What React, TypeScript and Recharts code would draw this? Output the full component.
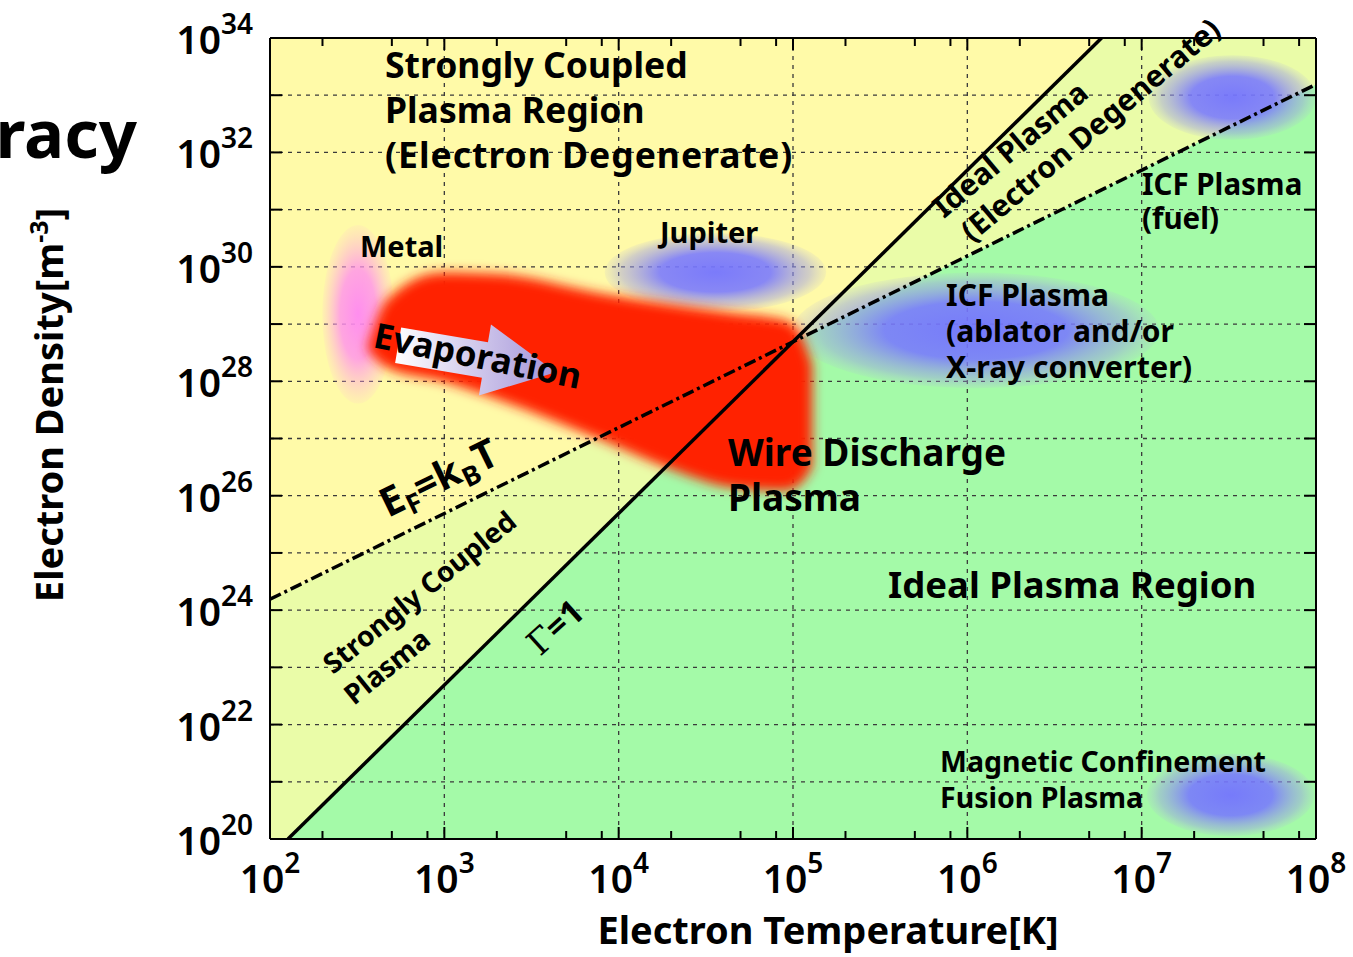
import React from "react";
import {
  ComposedChart,
  Area,
  Line,
  XAxis,
  YAxis,
  CartesianGrid,
  ReferenceArea,
  ReferenceLine,
} from "recharts";

// everything is in log10 units: x = log10(T [K]), y = log10(n_e [m^-3])
const X_DECADES = [2, 3, 4, 5, 6, 7, 8];
const MINOR_STEPS = [2, 5, 8];
const Y_DECADES = [20, 21, 22, 23, 24, 25, 26, 27, 28, 29, 30, 31, 32, 33, 34];
const X_GRID = [3, 4, 5, 6, 7];
const Y_GRID = [21, 22, 23, 24, 25, 26, 27, 28, 29, 30, 31, 32, 33];

// boundaries of the three coloured regions
const regionX = [2, 2.103, 5.0, 6.77, 8];
const fermiAt = [24.19, 24.34, 28.69, 31.35, 33.19];
const gammaAt = [20, 20, 28.69, 34, 34];

// Gamma = 1 and E_F = k_B T lines
const gammaLine = [
  { x: 2.103, y: 20 },
  { x: 6.77, y: 34 },
];
const fermiLine = [
  { x: 2, y: 24.19 },
  { x: 8, y: 33.19 },
];

// wire discharge plasma blob outline
const wireX = [2.56, 2.67, 2.99, 3.32, 3.89, 4.28, 4.66, 4.95, 5.04, 5.11];
const wireLow = [28.55, 28.24, 28.0, 27.67, 26.99, 26.49, 26.14, 26.09, 26.2, 26.5];
const wireHigh = [28.6, 29.42, 29.9, 29.87, 29.54, 29.35, 29.19, 29.07, 28.84, 28.3];

// soft elliptical blobs: [x1, x2, y1, y2]
const blobNames = ["metal", "jupiter", "icfFuel", "icfAblator", "mcf"];
const blobBoxes = [
  [2.3, 2.71, 27.61, 30.73],
  [3.92, 5.19, 29.22, 30.59],
  [7.04, 8.0, 32.22, 33.7],
  [5.0, 7.1, 27.88, 29.9],
  [7.03, 7.99, 20.05, 21.49],
];
const blobFills = ["pinkBlob", "blueBlob", "blueBlob", "blueBlob", "blueBlob"];

// evaporation arrow
const evapFrom = { x: 2.735, y: 28.63 };
const evapTo = { x: 3.64, y: 28.16 };

const FONT = "'Noto Sans', 'DejaVu Sans', sans-serif";

const xTicks = X_DECADES.flatMap((d) =>
  d === 8 ? [d] : [d, ...MINOR_STEPS.map((k) => d + Math.log10(k))]
);

const regionRows = regionX.map((x, i) => {
  const lo = Math.min(fermiAt[i], gammaAt[i]);
  const hi = Math.max(fermiAt[i], gammaAt[i]);
  return { x, green: [20, lo], pale: [lo, hi], yellow: [hi, 34] };
});

const wireRows = wireX.map((x, i) => ({ x, wire: [wireLow[i], wireHigh[i]] }));

function BottomTick(props: any) {
  const { x, y, payload } = props;
  const v = payload.value as number;
  const major = Number.isInteger(v);
  return (
    <g>
      <line x1={x} x2={x} y1={y} y2={y - (major ? 12 : 8)} stroke="#000" strokeWidth={2} />
      {major && (
        <text x={x} y={y + 54} textAnchor="middle" fontFamily={FONT} fontWeight={600} fontSize={39} fill="#000">
          10
          <tspan dy={-20} fontSize={28}>
            {v}
          </tspan>
        </text>
      )}
    </g>
  );
}

function TopTick(props: any) {
  const { x, y, payload } = props;
  const major = Number.isInteger(payload.value);
  return <line x1={x} x2={x} y1={y} y2={y + (major ? 12 : 8)} stroke="#000" strokeWidth={2} />;
}

function LeftTick(props: any) {
  const { x, y, payload } = props;
  const v = payload.value as number;
  return (
    <g>
      <line x1={x} x2={x + 12} y1={y} y2={y} stroke="#000" strokeWidth={2} />
      {v % 2 === 0 && (
        <text x={x - 17} y={y + 16} textAnchor="end" fontFamily={FONT} fontWeight={600} fontSize={39} fill="#000">
          10
          <tspan dy={-20} fontSize={28}>
            {v}
          </tspan>
        </text>
      )}
    </g>
  );
}

function RightTick(props: any) {
  const { x, y } = props;
  return <line x1={x} x2={x - 12} y1={y} y2={y} stroke="#000" strokeWidth={2} />;
}

const blobShape = (fill: string) => (p: any) => {
  const w = Math.abs(p.width);
  const h = Math.abs(p.height);
  const left = Math.min(p.x, p.x + p.width);
  const top = Math.min(p.y, p.y + p.height);
  return <ellipse cx={left + w / 2} cy={top + h / 2} rx={w / 2} ry={h / 2} fill={`url(#${fill})`} />;
};

function ArrowShape(p: any) {
  const { x1, y1, x2, y2 } = p;
  const dx = x2 - x1;
  const dy = y2 - y1;
  const len = Math.hypot(dx, dy);
  const ux = dx / len;
  const uy = dy / len;
  const nx = -uy;
  const ny = ux;
  const shaft = 18;
  const head = 36;
  const headLen = 72;
  const bx = x2 - ux * headLen;
  const by = y2 - uy * headLen;
  const pts = [
    [x1 + nx * shaft, y1 + ny * shaft],
    [bx + nx * shaft, by + ny * shaft],
    [bx + nx * head, by + ny * head],
    [x2, y2],
    [bx - nx * head, by - ny * head],
    [bx - nx * shaft, by - ny * shaft],
    [x1 - nx * shaft, y1 - ny * shaft],
  ];
  return <polygon points={pts.map((q) => q.join(",")).join(" ")} fill="url(#evapGrad)" />;
}

const txt = { fontFamily: FONT, fontWeight: 700, fill: "#000" } as const;

export default function App() {
  return (
    <div style={{ position: "absolute", left: 0, top: 0, width: 1353, height: 957, background: "#fff" }}>
      <style>{`.wire-blob path { filter: url(#wireBlur); }`}</style>
      <svg width={0} height={0} style={{ position: "absolute" }}>
        <defs>
          <radialGradient id="blueBlob">
            <stop offset="0" stopColor="#7474ff" stopOpacity={0.95} />
            <stop offset="0.5" stopColor="#7878ff" stopOpacity={0.88} />
            <stop offset="0.85" stopColor="#9a9ae8" stopOpacity={0.45} />
            <stop offset="1" stopColor="#b0b0e0" stopOpacity={0.12} />
          </radialGradient>
          <radialGradient id="pinkBlob">
            <stop offset="0" stopColor="#ff88f2" stopOpacity={0.95} />
            <stop offset="0.5" stopColor="#ff90ee" stopOpacity={0.8} />
            <stop offset="1" stopColor="#ffb0e0" stopOpacity={0.1} />
          </radialGradient>
          <linearGradient id="evapGrad" x1="0" x2="1" y1="0" y2="0">
            <stop offset="0" stopColor="#ffffff" />
            <stop offset="1" stopColor="#a393d8" />
          </linearGradient>
          <filter id="wireBlur" x="-20%" y="-20%" width="140%" height="140%">
            <feGaussianBlur stdDeviation="6" />
          </filter>
        </defs>
      </svg>

      <div style={{ position: "absolute", left: 0, top: 0 }}>
        <ComposedChart width={1353} height={957} margin={{ top: 37, right: 36, bottom: 58, left: 160 }}>
          <Area data={regionRows} dataKey="green" type="linear" fill="#a4faa8" fillOpacity={1} stroke="none" dot={false} activeDot={false} isAnimationActive={false} zIndex={100} />
          <Area data={regionRows} dataKey="pale" type="linear" fill="#eafca8" fillOpacity={1} stroke="none" dot={false} activeDot={false} isAnimationActive={false} zIndex={100} />
          <Area data={regionRows} dataKey="yellow" type="linear" fill="#fffaa8" fillOpacity={1} stroke="none" dot={false} activeDot={false} isAnimationActive={false} zIndex={100} />

          <CartesianGrid verticalValues={X_GRID} horizontalValues={Y_GRID} stroke="#3a3a3a" strokeWidth={1.3} strokeDasharray="4 5" zIndex={110} />

          {blobNames.map((name, i) => (
            <ReferenceArea
              key={name}
              x1={blobBoxes[i][0]}
              x2={blobBoxes[i][1]}
              y1={blobBoxes[i][2]}
              y2={blobBoxes[i][3]}
              ifOverflow="hidden"
              shape={blobShape(blobFills[i])}
              zIndex={120}
            />
          ))}

          <Area data={wireRows} dataKey="wire" type="monotone" fill="#ff2400" fillOpacity={1} stroke="none" className="wire-blob" dot={false} activeDot={false} isAnimationActive={false} zIndex={130} />

          <ReferenceLine segment={[evapFrom, evapTo]} shape={ArrowShape} ifOverflow="visible" zIndex={140} />

          <Line data={fermiLine} dataKey="y" type="linear" stroke="#000" strokeWidth={3.5} strokeDasharray="12 4 3 4" dot={false} activeDot={false} isAnimationActive={false} zIndex={400} />
          <Line data={gammaLine} dataKey="y" type="linear" stroke="#000" strokeWidth={3.5} dot={false} activeDot={false} isAnimationActive={false} zIndex={400} />

          <XAxis dataKey="x" type="number" domain={[2, 8]} ticks={xTicks} interval={0} allowDataOverflow height={60} tickSize={0} tickMargin={0} tickLine={false} axisLine={{ stroke: "#000", strokeWidth: 2 }} tick={<BottomTick />} />
          <XAxis xAxisId="top" orientation="top" dataKey="x" type="number" domain={[2, 8]} ticks={xTicks} interval={0} allowDataOverflow height={1} tickSize={0} tickMargin={0} tickLine={false} axisLine={{ stroke: "#000", strokeWidth: 2 }} tick={<TopTick />} />
          <YAxis type="number" domain={[20, 34]} ticks={Y_DECADES} interval={0} allowDataOverflow width={110} tickSize={0} tickMargin={0} tickLine={false} axisLine={{ stroke: "#000", strokeWidth: 2 }} tick={<LeftTick />} />
          <YAxis yAxisId="right" orientation="right" type="number" domain={[20, 34]} ticks={Y_DECADES} interval={0} allowDataOverflow width={1} tickSize={0} tickMargin={0} tickLine={false} axisLine={{ stroke: "#000", strokeWidth: 2 }} tick={<RightTick />} />
        </ComposedChart>
      </div>

      <svg width={1353} height={957} style={{ position: "absolute", left: 0, top: 0, pointerEvents: "none" }}>
        <text x={137} y={158} textAnchor="end" fontSize={67} {...txt}>
          Degeneracy
        </text>

        <text transform="translate(63,405) rotate(-90)" textAnchor="middle" fontSize={38} {...txt}>
          Electron Density[m
          <tspan dy={-15} fontSize={25}>
            -3
          </tspan>
          <tspan dy={15}>]</tspan>
        </text>
        <text x={828} y={944} textAnchor="middle" fontSize={38} {...txt}>
          Electron Temperature[K]
        </text>

        <text x={385} y={78} fontSize={35.5} {...txt}>Strongly Coupled</text>
        <text x={385} y={123} fontSize={35.5} {...txt}>Plasma Region</text>
        <text x={385} y={168} fontSize={35.5} letterSpacing={1} {...txt}>(Electron Degenerate)</text>

        <text x={360} y={257} fontSize={29} {...txt}>Metal</text>
        <text x={660} y={243} fontSize={29} {...txt}>Jupiter</text>

        <text transform="translate(372,347) rotate(11.5)" fontSize={35} {...txt}>Evaporation</text>

        <text x={728} y={466} fontSize={37} {...txt}>Wire Discharge</text>
        <text x={728} y={511} fontSize={37} {...txt}>Plasma</text>

        <text x={888} y={598} fontSize={36.5} {...txt}>Ideal Plasma Region</text>

        <text x={1142} y={195} fontSize={29.5} {...txt}>ICF Plasma</text>
        <text x={1142} y={229} fontSize={29.5} {...txt}>(fuel)</text>

        <text x={946} y={306} fontSize={30} {...txt}>ICF Plasma</text>
        <text x={946} y={342} fontSize={30} {...txt}>(ablator and/or</text>
        <text x={946} y={378} fontSize={30.5} {...txt}>X-ray converter)</text>

        <text x={940} y={772} fontSize={28.5} {...txt}>Magnetic Confinement</text>
        <text x={940} y={808} fontSize={28.5} {...txt}>Fusion Plasma</text>

        <text transform="translate(944,219) rotate(-40)" fontSize={30} {...txt}>Ideal Plasma</text>
        <text transform="translate(972,243) rotate(-40)" fontSize={30} {...txt}>(Electron Degenerate)</text>

        <text transform="translate(388,518) rotate(-26)" fontSize={40} {...txt}>
          E<tspan dy={8} fontSize={27}>F</tspan>
          <tspan dy={-8}>=k</tspan>
          <tspan dy={8} fontSize={27}>B</tspan>
          <tspan dy={-8}>T</tspan>
        </text>

        <text transform="translate(333,675) rotate(-39)" fontSize={28} {...txt}>Strongly Coupled</text>
        <text transform="translate(354,706) rotate(-39)" fontSize={28} {...txt}>Plasma</text>

        <text transform="translate(540,657) rotate(-42)" fontSize={34} {...txt}>
          <tspan fontFamily="'DejaVu Serif', serif" fontWeight={400}>Γ</tspan>=1
        </text>
      </svg>
    </div>
  );
}
